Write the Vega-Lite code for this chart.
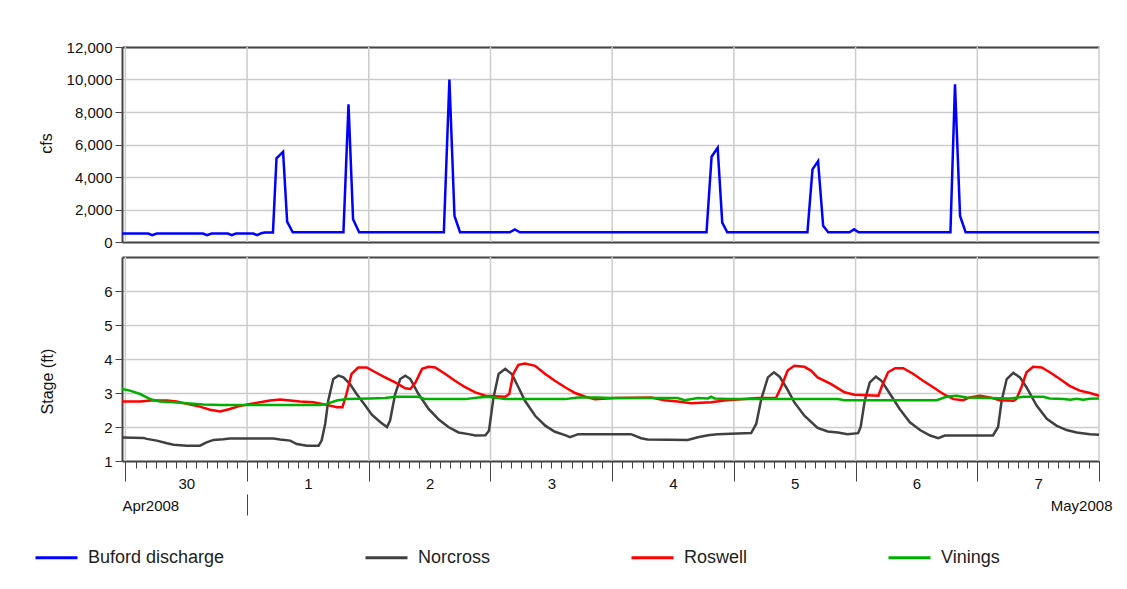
{
  "$schema": "https://vega.github.io/schema/vega-lite/v6.json",
  "padding": {"left": 34, "top": 40, "right": 10, "bottom": 10},
  "background": "white",
  "width": 977,
  "height": 414,
  "config": {
    "view": {"stroke": null},
    "font": "Liberation Sans",
    "axis": {"labelFont": "Liberation Sans", "titleFont": "Liberation Sans", "labelFontSize": 15, "titleFontSize": 16, "titleFontWeight": "normal", "labelColor": "#111", "titleColor": "#111", "gridColor": "#cccccc", "gridWidth": 1.5, "domainColor": "#444", "domainWidth": 2, "tickColor": "#444", "tickWidth": 1}
  },
  "datasets": {
    "days": [{"h": 0}, {"h": 24}, {"h": 48}, {"h": 72}, {"h": 96}, {"h": 120}, {"h": 144}, {"h": 168}, {"h": 192}],
    "flow": [
      {"h": -0.667, "s": "Buford discharge", "v": 520}, {"h": 4.5, "s": "Buford discharge", "v": 520}, {"h": 5.3, "s": "Buford discharge", "v": 420}, {"h": 6.2, "s": "Buford discharge", "v": 520},
      {"h": 15.3, "s": "Buford discharge", "v": 520}, {"h": 16.1, "s": "Buford discharge", "v": 420}, {"h": 17, "s": "Buford discharge", "v": 520}, {"h": 20.2, "s": "Buford discharge", "v": 520},
      {"h": 21, "s": "Buford discharge", "v": 420}, {"h": 21.8, "s": "Buford discharge", "v": 520}, {"h": 25.2, "s": "Buford discharge", "v": 520}, {"h": 26, "s": "Buford discharge", "v": 420},
      {"h": 26.8, "s": "Buford discharge", "v": 540}, {"h": 27.5, "s": "Buford discharge", "v": 580}, {"h": 29.1, "s": "Buford discharge", "v": 580}, {"h": 29.8, "s": "Buford discharge", "v": 5150},
      {"h": 31.1, "s": "Buford discharge", "v": 5550}, {"h": 31.9, "s": "Buford discharge", "v": 1250}, {"h": 33, "s": "Buford discharge", "v": 600}, {"h": 43, "s": "Buford discharge", "v": 600},
      {"h": 44, "s": "Buford discharge", "v": 8470}, {"h": 44.9, "s": "Buford discharge", "v": 1400}, {"h": 46.1, "s": "Buford discharge", "v": 600}, {"h": 62.8, "s": "Buford discharge", "v": 600},
      {"h": 63.9, "s": "Buford discharge", "v": 10000}, {"h": 64.9, "s": "Buford discharge", "v": 1600}, {"h": 66, "s": "Buford discharge", "v": 600}, {"h": 75.8, "s": "Buford discharge", "v": 600},
      {"h": 76.8, "s": "Buford discharge", "v": 780}, {"h": 77.8, "s": "Buford discharge", "v": 600}, {"h": 114.6, "s": "Buford discharge", "v": 600}, {"h": 115.6, "s": "Buford discharge", "v": 5250},
      {"h": 116.8, "s": "Buford discharge", "v": 5800}, {"h": 117.7, "s": "Buford discharge", "v": 1190}, {"h": 118.7, "s": "Buford discharge", "v": 600}, {"h": 134.5, "s": "Buford discharge", "v": 600},
      {"h": 135.5, "s": "Buford discharge", "v": 4470}, {"h": 136.6, "s": "Buford discharge", "v": 4980}, {"h": 137.6, "s": "Buford discharge", "v": 1000}, {"h": 138.6, "s": "Buford discharge", "v": 600},
      {"h": 142.8, "s": "Buford discharge", "v": 600}, {"h": 143.7, "s": "Buford discharge", "v": 780}, {"h": 144.6, "s": "Buford discharge", "v": 600}, {"h": 162.7, "s": "Buford discharge", "v": 600},
      {"h": 163.6, "s": "Buford discharge", "v": 9700}, {"h": 164.6, "s": "Buford discharge", "v": 1600}, {"h": 165.7, "s": "Buford discharge", "v": 600}, {"h": 192, "s": "Buford discharge", "v": 600}
    ],
    "stage": [
      {"h": -0.667, "s": "Norcross", "v": 1.69}, {"h": 3.6, "s": "Norcross", "v": 1.68}, {"h": 4.2, "s": "Norcross", "v": 1.65}, {"h": 6.2, "s": "Norcross", "v": 1.6},
      {"h": 8.2, "s": "Norcross", "v": 1.52}, {"h": 9.5, "s": "Norcross", "v": 1.48}, {"h": 12.1, "s": "Norcross", "v": 1.45}, {"h": 14.7, "s": "Norcross", "v": 1.45},
      {"h": 16, "s": "Norcross", "v": 1.55}, {"h": 17.4, "s": "Norcross", "v": 1.62}, {"h": 19.3, "s": "Norcross", "v": 1.64}, {"h": 20.6, "s": "Norcross", "v": 1.66},
      {"h": 29.2, "s": "Norcross", "v": 1.66}, {"h": 30.5, "s": "Norcross", "v": 1.63}, {"h": 32.5, "s": "Norcross", "v": 1.6}, {"h": 33.8, "s": "Norcross", "v": 1.5},
      {"h": 35.8, "s": "Norcross", "v": 1.45}, {"h": 38.1, "s": "Norcross", "v": 1.45}, {"h": 38.7, "s": "Norcross", "v": 1.6}, {"h": 39.4, "s": "Norcross", "v": 2.09},
      {"h": 40, "s": "Norcross", "v": 2.77}, {"h": 41, "s": "Norcross", "v": 3.41}, {"h": 42, "s": "Norcross", "v": 3.51}, {"h": 43, "s": "Norcross", "v": 3.46},
      {"h": 44.3, "s": "Norcross", "v": 3.26}, {"h": 45.6, "s": "Norcross", "v": 2.97}, {"h": 47.3, "s": "Norcross", "v": 2.63}, {"h": 48.6, "s": "Norcross", "v": 2.36},
      {"h": 50.3, "s": "Norcross", "v": 2.14}, {"h": 51.6, "s": "Norcross", "v": 2.0}, {"h": 52.2, "s": "Norcross", "v": 2.19}, {"h": 53.2, "s": "Norcross", "v": 2.97},
      {"h": 54.2, "s": "Norcross", "v": 3.41}, {"h": 55.2, "s": "Norcross", "v": 3.51}, {"h": 56.2, "s": "Norcross", "v": 3.41}, {"h": 57.8, "s": "Norcross", "v": 2.97},
      {"h": 59.8, "s": "Norcross", "v": 2.53}, {"h": 61.8, "s": "Norcross", "v": 2.22}, {"h": 63.7, "s": "Norcross", "v": 2.0}, {"h": 65.7, "s": "Norcross", "v": 1.84},
      {"h": 67.7, "s": "Norcross", "v": 1.79}, {"h": 69, "s": "Norcross", "v": 1.75}, {"h": 71, "s": "Norcross", "v": 1.76}, {"h": 71.7, "s": "Norcross", "v": 1.89},
      {"h": 72.6, "s": "Norcross", "v": 2.87}, {"h": 73.6, "s": "Norcross", "v": 3.56}, {"h": 74.9, "s": "Norcross", "v": 3.71}, {"h": 76.2, "s": "Norcross", "v": 3.56},
      {"h": 77.5, "s": "Norcross", "v": 3.17}, {"h": 78.8, "s": "Norcross", "v": 2.77}, {"h": 80.8, "s": "Norcross", "v": 2.33}, {"h": 82.8, "s": "Norcross", "v": 2.04},
      {"h": 84.7, "s": "Norcross", "v": 1.86}, {"h": 86.7, "s": "Norcross", "v": 1.76}, {"h": 87.7, "s": "Norcross", "v": 1.7}, {"h": 89.3, "s": "Norcross", "v": 1.79},
      {"h": 99.7, "s": "Norcross", "v": 1.79}, {"h": 101.7, "s": "Norcross", "v": 1.67}, {"h": 103, "s": "Norcross", "v": 1.63}, {"h": 110.9, "s": "Norcross", "v": 1.62},
      {"h": 112.9, "s": "Norcross", "v": 1.7}, {"h": 114.9, "s": "Norcross", "v": 1.76}, {"h": 116.8, "s": "Norcross", "v": 1.79}, {"h": 123.4, "s": "Norcross", "v": 1.82},
      {"h": 124.4, "s": "Norcross", "v": 2.09}, {"h": 125.4, "s": "Norcross", "v": 2.82}, {"h": 126.7, "s": "Norcross", "v": 3.46}, {"h": 127.9, "s": "Norcross", "v": 3.61},
      {"h": 129, "s": "Norcross", "v": 3.48}, {"h": 130.3, "s": "Norcross", "v": 3.17}, {"h": 131.9, "s": "Norcross", "v": 2.73}, {"h": 133.9, "s": "Norcross", "v": 2.33},
      {"h": 136.5, "s": "Norcross", "v": 1.97}, {"h": 138.5, "s": "Norcross", "v": 1.87}, {"h": 140.5, "s": "Norcross", "v": 1.84}, {"h": 142.4, "s": "Norcross", "v": 1.79},
      {"h": 144.5, "s": "Norcross", "v": 1.82}, {"h": 145, "s": "Norcross", "v": 2.0}, {"h": 145.8, "s": "Norcross", "v": 2.77}, {"h": 146.8, "s": "Norcross", "v": 3.31},
      {"h": 148, "s": "Norcross", "v": 3.48}, {"h": 149.1, "s": "Norcross", "v": 3.36}, {"h": 150.8, "s": "Norcross", "v": 2.97}, {"h": 152.7, "s": "Norcross", "v": 2.53},
      {"h": 154.7, "s": "Norcross", "v": 2.14}, {"h": 156.7, "s": "Norcross", "v": 1.91}, {"h": 158.7, "s": "Norcross", "v": 1.75}, {"h": 160.3, "s": "Norcross", "v": 1.67},
      {"h": 161.6, "s": "Norcross", "v": 1.75}, {"h": 171.1, "s": "Norcross", "v": 1.75}, {"h": 172.1, "s": "Norcross", "v": 2.0}, {"h": 172.8, "s": "Norcross", "v": 2.77},
      {"h": 173.8, "s": "Norcross", "v": 3.41}, {"h": 175.1, "s": "Norcross", "v": 3.59}, {"h": 176.4, "s": "Norcross", "v": 3.46}, {"h": 177.7, "s": "Norcross", "v": 3.17},
      {"h": 179.7, "s": "Norcross", "v": 2.63}, {"h": 181.7, "s": "Norcross", "v": 2.24}, {"h": 183.6, "s": "Norcross", "v": 2.04}, {"h": 185.6, "s": "Norcross", "v": 1.91},
      {"h": 187.6, "s": "Norcross", "v": 1.84}, {"h": 190.2, "s": "Norcross", "v": 1.79}, {"h": 192, "s": "Norcross", "v": 1.77},
      {"h": -0.667, "s": "Roswell", "v": 2.75}, {"h": 2.9, "s": "Roswell", "v": 2.75}, {"h": 4.9, "s": "Roswell", "v": 2.78}, {"h": 8.2, "s": "Roswell", "v": 2.78},
      {"h": 10.1, "s": "Roswell", "v": 2.75}, {"h": 12.1, "s": "Roswell", "v": 2.68}, {"h": 14.7, "s": "Roswell", "v": 2.6}, {"h": 16.7, "s": "Roswell", "v": 2.51},
      {"h": 18.7, "s": "Roswell", "v": 2.46}, {"h": 20.6, "s": "Roswell", "v": 2.53}, {"h": 22.6, "s": "Roswell", "v": 2.62}, {"h": 24.6, "s": "Roswell", "v": 2.68},
      {"h": 26.6, "s": "Roswell", "v": 2.73}, {"h": 28.5, "s": "Roswell", "v": 2.78}, {"h": 30.5, "s": "Roswell", "v": 2.81}, {"h": 32.5, "s": "Roswell", "v": 2.78},
      {"h": 34.4, "s": "Roswell", "v": 2.75}, {"h": 37.1, "s": "Roswell", "v": 2.73}, {"h": 39.7, "s": "Roswell", "v": 2.65}, {"h": 41.7, "s": "Roswell", "v": 2.58},
      {"h": 42.8, "s": "Roswell", "v": 2.58}, {"h": 43.6, "s": "Roswell", "v": 2.97}, {"h": 44.6, "s": "Roswell", "v": 3.56}, {"h": 45.9, "s": "Roswell", "v": 3.75},
      {"h": 47.6, "s": "Roswell", "v": 3.75}, {"h": 49.3, "s": "Roswell", "v": 3.61}, {"h": 51.2, "s": "Roswell", "v": 3.46}, {"h": 53.2, "s": "Roswell", "v": 3.31},
      {"h": 55.2, "s": "Roswell", "v": 3.14}, {"h": 56.2, "s": "Roswell", "v": 3.12}, {"h": 57.2, "s": "Roswell", "v": 3.31}, {"h": 58.5, "s": "Roswell", "v": 3.71},
      {"h": 59.8, "s": "Roswell", "v": 3.77}, {"h": 61.1, "s": "Roswell", "v": 3.75}, {"h": 63.1, "s": "Roswell", "v": 3.56}, {"h": 65, "s": "Roswell", "v": 3.36},
      {"h": 67, "s": "Roswell", "v": 3.17}, {"h": 69, "s": "Roswell", "v": 3.02}, {"h": 71, "s": "Roswell", "v": 2.92}, {"h": 74.9, "s": "Roswell", "v": 2.89},
      {"h": 75.7, "s": "Roswell", "v": 2.97}, {"h": 76.5, "s": "Roswell", "v": 3.56}, {"h": 77.5, "s": "Roswell", "v": 3.83}, {"h": 78.8, "s": "Roswell", "v": 3.87},
      {"h": 80.8, "s": "Roswell", "v": 3.8}, {"h": 82.8, "s": "Roswell", "v": 3.56}, {"h": 84.7, "s": "Roswell", "v": 3.36}, {"h": 86.7, "s": "Roswell", "v": 3.17},
      {"h": 88.7, "s": "Roswell", "v": 3.0}, {"h": 90.7, "s": "Roswell", "v": 2.89}, {"h": 92.6, "s": "Roswell", "v": 2.82}, {"h": 96.6, "s": "Roswell", "v": 2.85},
      {"h": 103.7, "s": "Roswell", "v": 2.87}, {"h": 106.3, "s": "Roswell", "v": 2.79}, {"h": 108.9, "s": "Roswell", "v": 2.75}, {"h": 111.6, "s": "Roswell", "v": 2.7},
      {"h": 115.5, "s": "Roswell", "v": 2.73}, {"h": 118.1, "s": "Roswell", "v": 2.78}, {"h": 120.8, "s": "Roswell", "v": 2.81}, {"h": 124.7, "s": "Roswell", "v": 2.85},
      {"h": 128.3, "s": "Roswell", "v": 2.85}, {"h": 129.3, "s": "Roswell", "v": 3.17}, {"h": 130.6, "s": "Roswell", "v": 3.66}, {"h": 131.9, "s": "Roswell", "v": 3.8},
      {"h": 133.9, "s": "Roswell", "v": 3.77}, {"h": 135.2, "s": "Roswell", "v": 3.66}, {"h": 136.5, "s": "Roswell", "v": 3.46}, {"h": 139.2, "s": "Roswell", "v": 3.26},
      {"h": 141.8, "s": "Roswell", "v": 3.02}, {"h": 143.8, "s": "Roswell", "v": 2.95}, {"h": 148.5, "s": "Roswell", "v": 2.92}, {"h": 149.1, "s": "Roswell", "v": 3.17},
      {"h": 150.4, "s": "Roswell", "v": 3.61}, {"h": 151.8, "s": "Roswell", "v": 3.73}, {"h": 153.4, "s": "Roswell", "v": 3.73}, {"h": 155.4, "s": "Roswell", "v": 3.56},
      {"h": 157.3, "s": "Roswell", "v": 3.36}, {"h": 159.3, "s": "Roswell", "v": 3.17}, {"h": 161.3, "s": "Roswell", "v": 2.97}, {"h": 163.3, "s": "Roswell", "v": 2.82},
      {"h": 165.2, "s": "Roswell", "v": 2.79}, {"h": 166.5, "s": "Roswell", "v": 2.87}, {"h": 168.5, "s": "Roswell", "v": 2.92}, {"h": 170.5, "s": "Roswell", "v": 2.87},
      {"h": 172.4, "s": "Roswell", "v": 2.79}, {"h": 175.1, "s": "Roswell", "v": 2.77}, {"h": 175.7, "s": "Roswell", "v": 2.82}, {"h": 176.7, "s": "Roswell", "v": 3.17},
      {"h": 177.7, "s": "Roswell", "v": 3.61}, {"h": 179, "s": "Roswell", "v": 3.77}, {"h": 180.7, "s": "Roswell", "v": 3.75}, {"h": 182.3, "s": "Roswell", "v": 3.61},
      {"h": 184.3, "s": "Roswell", "v": 3.41}, {"h": 186.2, "s": "Roswell", "v": 3.21}, {"h": 188.2, "s": "Roswell", "v": 3.07}, {"h": 190.2, "s": "Roswell", "v": 3.0},
      {"h": 192, "s": "Roswell", "v": 2.92},
      {"h": -0.667, "s": "Vinings", "v": 3.12}, {"h": 0.9, "s": "Vinings", "v": 3.07}, {"h": 2.9, "s": "Vinings", "v": 2.97}, {"h": 4.9, "s": "Vinings", "v": 2.82},
      {"h": 6.8, "s": "Vinings", "v": 2.75}, {"h": 9.5, "s": "Vinings", "v": 2.73}, {"h": 12.1, "s": "Vinings", "v": 2.7}, {"h": 15.4, "s": "Vinings", "v": 2.66},
      {"h": 18.7, "s": "Vinings", "v": 2.65}, {"h": 38.4, "s": "Vinings", "v": 2.65}, {"h": 39.7, "s": "Vinings", "v": 2.68}, {"h": 41.7, "s": "Vinings", "v": 2.78},
      {"h": 43.6, "s": "Vinings", "v": 2.82}, {"h": 48.2, "s": "Vinings", "v": 2.84}, {"h": 51.2, "s": "Vinings", "v": 2.85}, {"h": 53.2, "s": "Vinings", "v": 2.89},
      {"h": 57.8, "s": "Vinings", "v": 2.89}, {"h": 59.1, "s": "Vinings", "v": 2.82}, {"h": 67, "s": "Vinings", "v": 2.82}, {"h": 69.6, "s": "Vinings", "v": 2.87},
      {"h": 71.6, "s": "Vinings", "v": 2.89}, {"h": 74.9, "s": "Vinings", "v": 2.82}, {"h": 86.7, "s": "Vinings", "v": 2.82}, {"h": 89.3, "s": "Vinings", "v": 2.87},
      {"h": 93.3, "s": "Vinings", "v": 2.87}, {"h": 95.8, "s": "Vinings", "v": 2.85}, {"h": 108.9, "s": "Vinings", "v": 2.85}, {"h": 110.3, "s": "Vinings", "v": 2.79},
      {"h": 112.9, "s": "Vinings", "v": 2.85}, {"h": 114.9, "s": "Vinings", "v": 2.84}, {"h": 115.5, "s": "Vinings", "v": 2.89}, {"h": 116.2, "s": "Vinings", "v": 2.84},
      {"h": 118.8, "s": "Vinings", "v": 2.82}, {"h": 140.5, "s": "Vinings", "v": 2.82}, {"h": 141.8, "s": "Vinings", "v": 2.79}, {"h": 160, "s": "Vinings", "v": 2.79},
      {"h": 161.9, "s": "Vinings", "v": 2.89}, {"h": 163.9, "s": "Vinings", "v": 2.92}, {"h": 165.9, "s": "Vinings", "v": 2.87}, {"h": 170.5, "s": "Vinings", "v": 2.85},
      {"h": 174.4, "s": "Vinings", "v": 2.84}, {"h": 177.1, "s": "Vinings", "v": 2.89}, {"h": 181, "s": "Vinings", "v": 2.89}, {"h": 182.3, "s": "Vinings", "v": 2.84},
      {"h": 185, "s": "Vinings", "v": 2.82}, {"h": 186.3, "s": "Vinings", "v": 2.8}, {"h": 187.6, "s": "Vinings", "v": 2.83}, {"h": 188.9, "s": "Vinings", "v": 2.8},
      {"h": 190.2, "s": "Vinings", "v": 2.83}, {"h": 192, "s": "Vinings", "v": 2.84}
    ]
  },
  "layer": [
    {
      "data": {"name": "days"},
      "mark": {"type": "rule", "color": "#cccccc", "strokeWidth": 1.5},
      "encoding": {
        "x": {"field": "h", "type": "quantitative", "axis": null, "scale": {"domain": [-0.667, 192], "nice": false, "zero": false}},
        "y": {"datum": 0, "type": "quantitative", "axis": null, "scale": {"domain": [0, 12000], "range": [195, 0], "nice": false, "zero": false}},
        "y2": {"datum": 12000}
      }
    },
    {
      "data": {"name": "days"},
      "mark": {"type": "rule", "color": "#cccccc", "strokeWidth": 1.5},
      "encoding": {
        "x": {"field": "h", "type": "quantitative", "axis": null, "scale": {"domain": [-0.667, 192], "nice": false, "zero": false}},
        "y": {"datum": 1, "type": "quantitative", "axis": null, "scale": {"domain": [1, 7], "range": [414, 210], "nice": false, "zero": false}},
        "y2": {"datum": 7}
      }
    },
    {
      "data": {"name": "flow"},
      "mark": {"type": "line", "strokeWidth": 2.5},
      "encoding": {
        "x": {"field": "h", "type": "quantitative", "axis": null, "scale": {"domain": [-0.667, 192], "nice": false, "zero": false}},
        "y": {"field": "v", "type": "quantitative",
          "scale": {"domain": [0, 12000], "range": [195, 0], "nice": false, "zero": false},
          "axis": {"orient": "left", "title": "cfs", "values": [0, 2000, 4000, 6000, 8000, 10000, 12000], "format": ",d", "tickSize": 7, "labelPadding": 3, "grid": true, "titleX": -68, "titleY": 96}},
        "color": {"field": "s", "type": "nominal",
          "scale": {"domain": ["Buford discharge", "Norcross", "Roswell", "Vinings"], "range": ["#0000ff", "#404040", "#ff0000", "#00b000"]},
          "legend": {"orient": "none", "legendX": -88, "legendY": 488, "direction": "horizontal", "title": null, "symbolType": "stroke", "symbolSize": 1764, "symbolStrokeWidth": 3, "labelFontSize": 18, "labelFont": "Liberation Sans", "labelColor": "#222", "labelOffset": 9, "columnPadding": 134}}
      }
    },
    {
      "data": {"name": "stage"},
      "mark": {"type": "line", "strokeWidth": 2.5},
      "encoding": {
        "x": {"field": "h", "type": "quantitative", "axis": null, "scale": {"domain": [-0.667, 192], "nice": false, "zero": false}},
        "y": {"field": "v", "type": "quantitative",
          "scale": {"domain": [1, 7], "range": [414, 210], "nice": false, "zero": false},
          "axis": {"orient": "left", "title": "Stage (ft)", "values": [1, 2, 3, 4, 5, 6], "format": "d", "tickSize": 7, "labelPadding": 3, "grid": true, "titleX": -67, "titleY": 334}},
        "color": {"field": "s", "type": "nominal",
          "scale": {"domain": ["Buford discharge", "Norcross", "Roswell", "Vinings"], "range": ["#0000ff", "#404040", "#ff0000", "#00b000"]},
          "legend": {"orient": "none", "legendX": -88, "legendY": 488, "direction": "horizontal", "title": null, "symbolType": "stroke", "symbolSize": 1764, "symbolStrokeWidth": 3, "labelFontSize": 18, "labelFont": "Liberation Sans", "labelColor": "#222", "labelOffset": 9, "columnPadding": 134}}
      }
    },
    {
      "data": {"name": "days"},
      "mark": {"type": "point", "opacity": 0},
      "encoding": {
        "x": {"field": "h", "type": "quantitative", "scale": {"domain": [-0.667, 192], "nice": false, "zero": false},
          "axis": {"orient": "top", "title": null, "labels": false, "ticks": false, "grid": false, "domain": true}}
      }
    },
    {
      "data": {"name": "days"},
      "mark": {"type": "point", "opacity": 0},
      "encoding": {
        "x": {"field": "h", "type": "quantitative", "scale": {"domain": [-0.667, 192], "nice": false, "zero": false},
          "axis": {"orient": "bottom", "offset": -219, "title": null, "labels": false, "ticks": false, "grid": false, "domain": true}}
      }
    },
    {
      "data": {"name": "days"},
      "mark": {"type": "point", "opacity": 0},
      "encoding": {
        "x": {"field": "h", "type": "quantitative", "scale": {"domain": [-0.667, 192], "nice": false, "zero": false},
          "axis": {"orient": "top", "offset": -210, "title": null, "labels": false, "ticks": false, "grid": false, "domain": true}}
      }
    },
    {
      "data": {"name": "days"},
      "mark": {"type": "point", "opacity": 0},
      "encoding": {
        "x": {"field": "h", "type": "quantitative", "scale": {"domain": [-0.667, 192], "nice": false, "zero": false},
          "axis": {"orient": "bottom", "title": null, "labels": false, "ticks": true, "tickSize": 20, "grid": false, "domain": true, "values": [0, 24, 48, 72, 96, 120, 144, 168, 192]}}
      }
    },
    {
      "data": {"name": "days"},
      "mark": {"type": "point", "opacity": 0},
      "encoding": {
        "x": {"field": "h", "type": "quantitative", "scale": {"domain": [-0.667, 192], "nice": false, "zero": false},
          "axis": {"orient": "bottom", "title": null, "labels": false, "ticks": true, "tickSize": 7, "grid": false, "domain": false,
            "values": [0, 2, 4, 6, 8, 10, 12, 14, 16, 18, 20, 22, 24, 26, 28, 30, 32, 34, 36, 38, 40, 42, 44, 46, 48, 50, 52, 54, 56, 58, 60, 62, 64, 66, 68, 70, 72, 74, 76, 78, 80, 82, 84, 86, 88, 90, 92, 94, 96, 98, 100, 102, 104, 106, 108, 110, 112, 114, 116, 118, 120, 122, 124, 126, 128, 130, 132, 134, 136, 138, 140, 142, 144, 146, 148, 150, 152, 154, 156, 158, 160, 162, 164, 166, 168, 170, 172, 174, 176, 178, 180, 182, 184, 186, 188, 190, 192]}}
      }
    },
    {
      "data": {"name": "days"},
      "mark": {"type": "point", "opacity": 0},
      "encoding": {
        "x": {"field": "h", "type": "quantitative", "scale": {"domain": [-0.667, 192], "nice": false, "zero": false},
          "axis": {"orient": "bottom", "title": null, "labels": true, "ticks": false, "grid": false, "domain": false, "labelPadding": 15, "labelFlush": false, "labelOverlap": false,
            "values": [12, 36, 60, 84, 108, 132, 156, 180],
            "labelExpr": "datum.value < 24 ? '30' : '' + floor(datum.value / 24)"}}
      }
    },
    {
      "data": {"name": "days"},
      "mark": {"type": "point", "opacity": 0},
      "encoding": {
        "x": {"field": "h", "type": "quantitative", "scale": {"domain": [-0.667, 192], "nice": false, "zero": false},
          "axis": {"orient": "bottom", "title": null, "labels": true, "ticks": false, "grid": false, "domain": false, "labelPadding": 37, "labelFlush": false, "labelAlign": "left",
            "values": [-0.667], "labelExpr": "'Apr2008'"}}
      }
    },
    {
      "data": {"name": "days"},
      "mark": {"type": "point", "opacity": 0},
      "encoding": {
        "x": {"field": "h", "type": "quantitative", "scale": {"domain": [-0.667, 192], "nice": false, "zero": false},
          "axis": {"orient": "bottom", "title": null, "labels": true, "ticks": false, "grid": false, "domain": false, "labelPadding": 37, "labelFlush": false, "labelAlign": "right", "labelOffset": 13,
            "values": [192], "labelExpr": "'May2008'"}}
      }
    },
    {
      "data": {"name": "days"},
      "mark": {"type": "point", "opacity": 0},
      "encoding": {
        "x": {"field": "h", "type": "quantitative", "scale": {"domain": [-0.667, 192], "nice": false, "zero": false},
          "axis": {"orient": "bottom", "title": null, "labels": false, "ticks": true, "tickSize": 21, "offset": 33, "grid": false, "domain": false, "values": [24]}}
      }
    }
  ],
  "resolve": {"scale": {"x": "independent", "y": "independent"}}
}
